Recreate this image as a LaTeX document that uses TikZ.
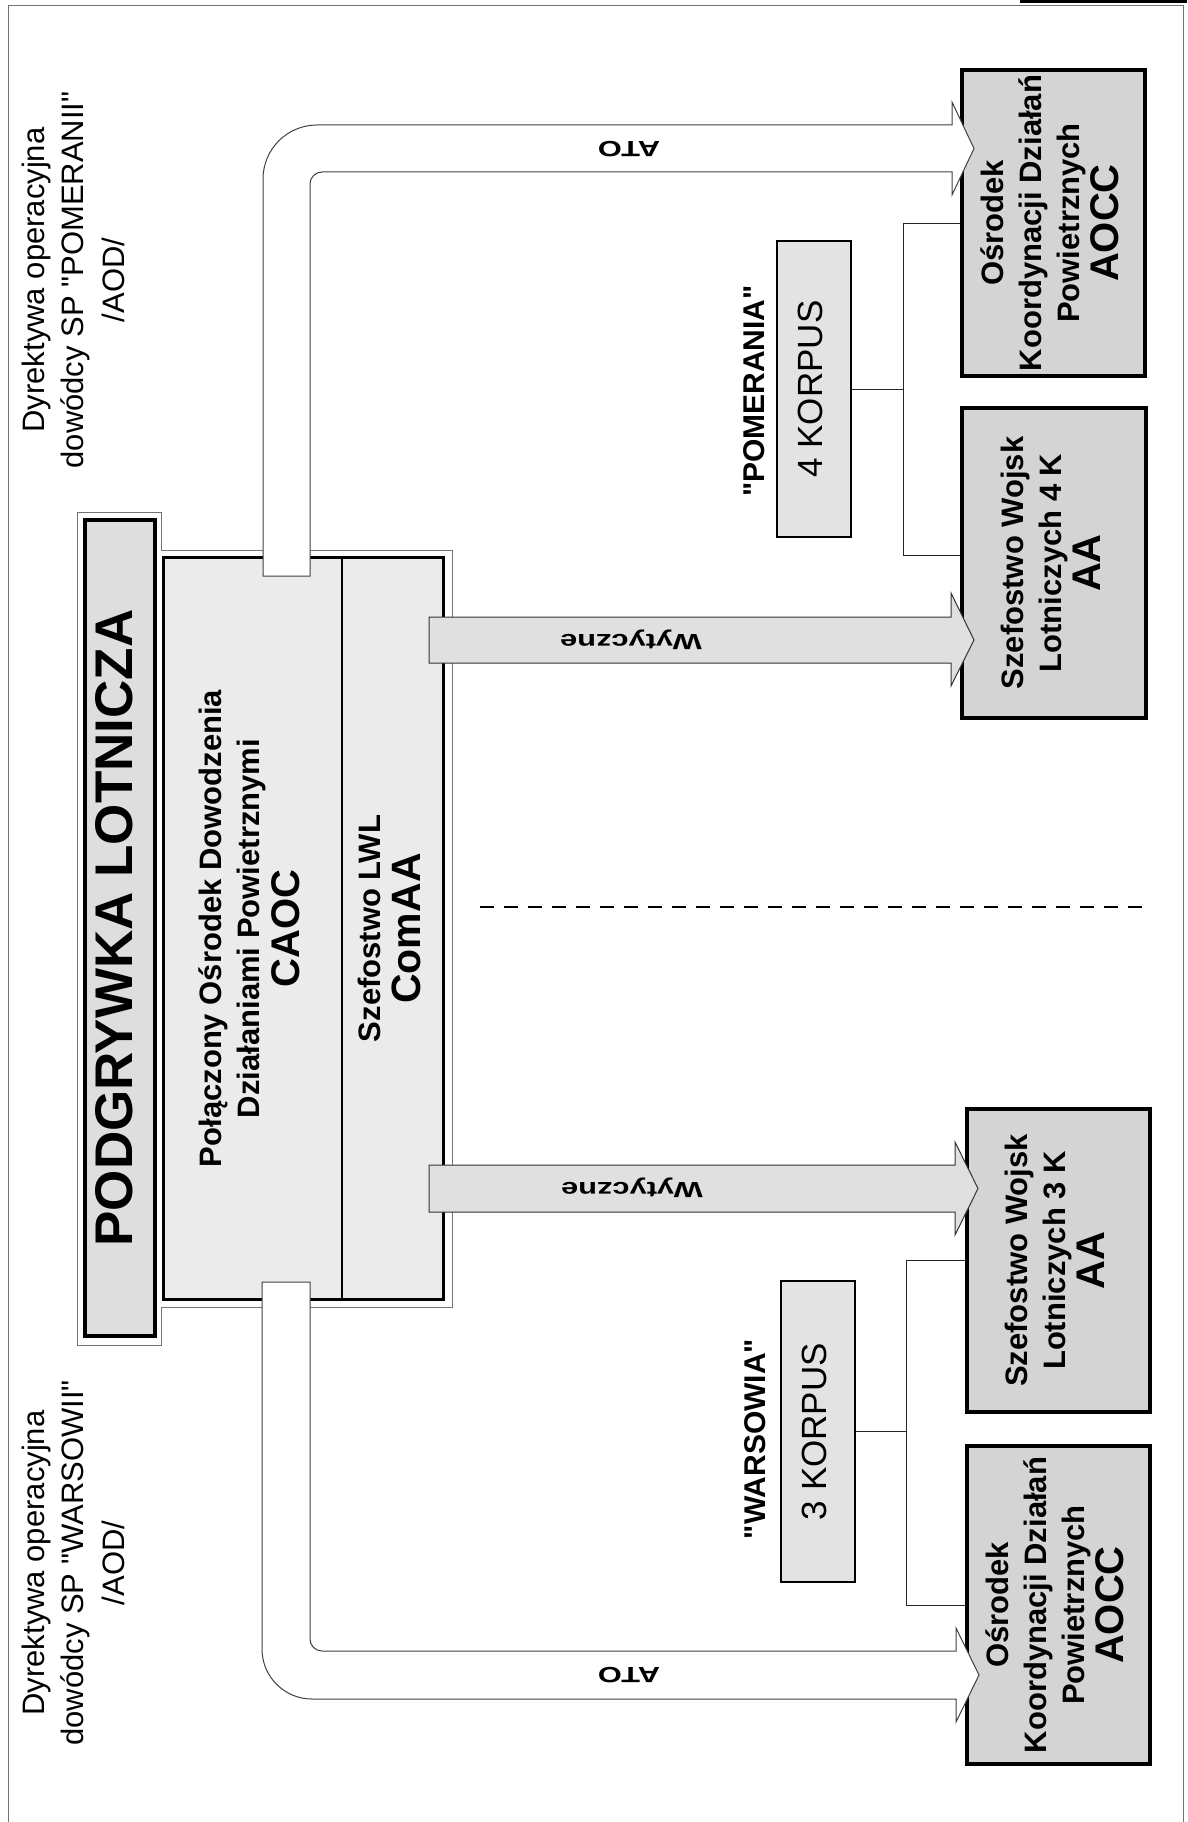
\documentclass[tikz,border=0pt]{standalone}
\usepackage{fontspec}
\setmainfont{Liberation Sans}[Ligatures=TeXOff]
\usepackage{graphicx}

\newcommand{\fs}[2]{\fontsize{#1}{#2}\selectfont}
\newcommand{\vtext}[2]{\rotatebox{90}{#1\begin{tabular}{@{}c@{}}#2\end{tabular}}}
\newcommand{\widetext}[1]{\scalebox{1.4}[1]{\fs{22}{26}\bfseries #1}}

\tikzset{
  unitbox/.style={draw=black, line width=3.5pt, fill=black!17, inner sep=0pt},
  corpsbox/.style={draw=black, line width=2pt, fill=black!11, inner sep=0pt},
  partbox/.style={draw=black, line width=1.2pt, fill=black!8, inner sep=0pt},
  pipe/.style={draw=black!75, line width=1pt, fill=white},
  fatarrow/.style={draw=black!80, line width=1pt, fill=black!12},
  link/.style={draw=black!85, line width=1pt},
  frame/.style={draw=black!55, line width=0.9pt}
}

\begin{document}
\begin{tikzpicture}[x=1pt, y=-1pt]
\useasboundingbox (0,0) rectangle (1187,1822);

% page frame
\draw[frame] (8,1822) -- (8,5) -- (1183,5) -- (1183,1822);
\draw[line width=3pt] (1020,1.5) -- (1187,1.5);

% exercise block
\draw[frame, fill=white] (77,1345) -- (77,512) -- (161,512) -- (161,550) -- (452,550) -- (452,1307) -- (161,1307) -- (161,1345) -- cycle;
\node[unitbox, fill=black!13, minimum width=70pt, minimum height=816pt] (pod) at (120,928)
  {\vtext{\fs{53}{60}\bfseries}{PODGRYWKA LOTNICZA}};
\node[partbox, minimum width=178pt, minimum height=741pt] (caoc) at (253,928.5)
  {\vtext{\fs{31}{38}\bfseries}{Połączony Ośrodek Dowodzenia\\Działaniami Powietrznymi\\\fs{40}{44}CAOC}};
\node[partbox, minimum width=101pt, minimum height=741pt] (comaa) at (392.5,928.5)
  {\vtext{\fs{31}{38}\bfseries}{Szefostwo LWL\\\fs{41}{44}ComAA}};
\draw[line width=3pt] (caoc.north west) rectangle (comaa.south east);

% directives
\node (dirP) at (76,280) {\vtext{\fs{31}{40}}{Dyrektywa operacyjna\\dowódcy SP "POMERANII"\\/AOD/}};
\node (dirW) at (76,1563) {\vtext{\fs{31}{40}}{Dyrektywa operacyjna\\dowódcy SP "WARSOWII"\\/AOD/}};

% corps level
\node[unitbox, minimum width=183pt, minimum height=306pt] (aoccP) at (1053.5,223)
  {\vtext{\fs{31}{38}\bfseries}{Ośrodek\\Koordynacji Działań\\Powietrznych\\\fs{40}{44}AOCC}};
\node[unitbox, minimum width=184pt, minimum height=310pt] (aaP) at (1054,563)
  {\vtext{\fs{31}{38}\bfseries}{Szefostwo Wojsk\\Lotniczych 4 K\\\fs{40}{44}AA}};
\node[unitbox, minimum width=183pt, minimum height=303pt] (aaW) at (1058.5,1260.5)
  {\vtext{\fs{31}{38}\bfseries}{Szefostwo Wojsk\\Lotniczych 3 K\\\fs{40}{44}AA}};
\node[unitbox, minimum width=183pt, minimum height=318pt] (aoccW) at (1058.5,1605)
  {\vtext{\fs{31}{38}\bfseries}{Ośrodek\\Koordynacji Działań\\Powietrznych\\\fs{40}{44}AOCC}};

\node[corpsbox, minimum width=74pt, minimum height=296pt] (korpus4) at (814,389)
  {\vtext{\fs{35}{42}}{4 KORPUS}};
\node[corpsbox, minimum width=74pt, minimum height=301pt] (korpus3) at (818,1431.5)
  {\vtext{\fs{35}{42}}{3 KORPUS}};
\node (pomlab) at (757,391) {\vtext{\fs{30}{36}\bfseries}{"POMERANIA"}};
\node (warlab) at (758,1439) {\vtext{\fs{30}{36}\bfseries}{"WARSOWIA"}};

\draw[link] (korpus4.east) -- ++(51,0) coordinate (j4);
\draw[link] (aoccP.west) -| (j4) |- ([yshift=8pt]aaP.west);
\draw[link] (korpus3.east) -- ++(50,0) coordinate (j3);
\draw[link] (aaW.west) -| (j3) |- (aoccW.west);

% ATO pipes
\draw[pipe] (263,576) [rounded corners=54pt] -- (263,125) -- (600,125) [sharp corners] -- (952,125) -- (952,102) -- (974,148.5) -- (952,195) -- (952,172) -- (600,172) [rounded corners=12pt] -- (310,172) -- (310,400) [sharp corners] -- (310,576) -- cycle;
\draw[pipe] (262,1282) [rounded corners=50pt] -- (262,1699) -- (600,1699) [sharp corners] -- (956,1699) -- (956,1722) -- (979,1675) -- (956,1628) -- (956,1651) -- (600,1651) [rounded corners=12pt] -- (310,1651) -- (310,1450) [sharp corners] -- (310,1282) -- cycle;
\node (atoP) at (629,149) [rotate=180] {\widetext{ATO}};
\node (atoW) at (629,1675) [rotate=180] {\widetext{ATO}};

% guidance arrows
\draw[fatarrow] (429,617) -- (951,617) -- (951,593) -- (974,640) -- (951,686) -- (951,663) -- (429,663) -- cycle;
\draw[fatarrow] (429,1165) -- (955,1165) -- (955,1142) -- (978,1188.5) -- (955,1235) -- (955,1212) -- (429,1212) -- cycle;
\node (wytP) at (631,640) [rotate=180] {\widetext{Wytyczne}};
\node (wytW) at (632,1188) [rotate=180] {\widetext{Wytyczne}};

% split line
\draw[line width=1.3pt, dash pattern=on 14pt off 10pt] (480,907) -- (1150,907);
\end{tikzpicture}
\end{document}
